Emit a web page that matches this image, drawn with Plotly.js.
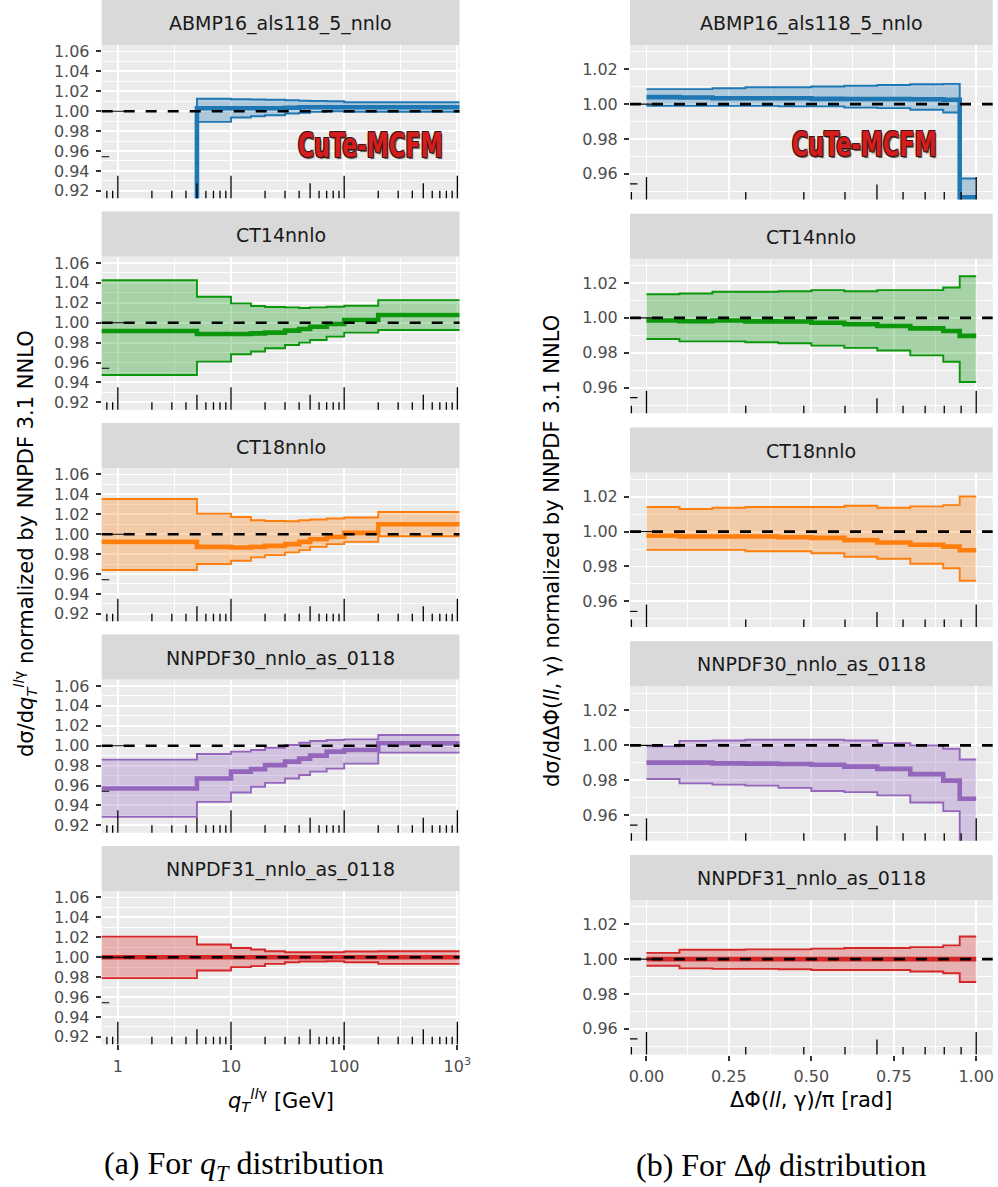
<!DOCTYPE html>
<html>
<head>
<meta charset="utf-8">
<script src="https://cdn.plot.ly/plotly-3.0.1.min.js"></script>
<style>
  html, body { margin: 0; padding: 0; background: #ffffff; }
  #chart { width: 998px; height: 1187px; }
</style>
</head>
<body>
<div id="chart"></div>
<script>
// PDF sets, one facet row each, ratio to NNPDF 3.1 NNLO
const pdfSets = ['ABMP16_als118_5_nnlo', 'CT14nnlo', 'CT18nnlo', 'NNPDF30_nnlo_as_0118', 'NNPDF31_nnlo_as_0118'];
const setColors = ['#1f77b4', '#0b960b', '#ff7f0e', '#9467bd', '#d62728'];

// q_T^{ll gamma} bin edges [GeV]
const qtEdges = [0.7, 5, 10, 15, 20, 30, 40, 50, 70, 100, 200, 1200];
// Delta Phi(ll, gamma)/pi bin edges
const dphiEdges = [0, 0.1, 0.2, 0.3, 0.4, 0.5, 0.6, 0.7, 0.8, 0.9, 0.95, 1.0];

// q_T ratios: central value and PDF uncertainty band
const abmpQtMid = [0.900, 1.003, 1.003, 1.003, 1.003, 1.0035, 1.004, 1.004, 1.004, 1.004, 1.004];
const abmpQtHi  = [0.905, 1.0125, 1.012, 1.0118, 1.0115, 1.011, 1.0105, 1.0103, 1.010, 1.009, 1.009];
const abmpQtLo  = [0.895, 0.9893, 0.9936, 0.995, 0.996, 0.9977, 0.9983, 0.9993, 1.000, 0.9995, 0.9995];

const ct14QtMid = [0.9917, 0.9886, 0.9886, 0.9893, 0.990, 0.992, 0.9937, 0.996, 0.9987, 1.0027, 1.0077];
const ct14QtHi  = [1.0427, 1.026, 1.0194, 1.0167, 1.0157, 1.0154, 1.0147, 1.0154, 1.016, 1.017, 1.0227];
const ct14QtLo  = [0.9475, 0.9609, 0.9683, 0.971, 0.9743, 0.9776, 0.980, 0.9826, 0.986, 0.990, 0.9927];

const ct18QtMid = [0.9923, 0.9873, 0.9867, 0.9873, 0.9883, 0.990, 0.9923, 0.995, 0.9973, 1.0013, 1.010];
const ct18QtHi  = [1.0353, 1.0207, 1.0173, 1.014, 1.0133, 1.013, 1.014, 1.0147, 1.0157, 1.0167, 1.0223];
const ct18QtLo  = [0.964, 0.970, 0.9733, 0.9767, 0.979, 0.9817, 0.984, 0.9873, 0.990, 0.9923, 0.998];

const nn30QtMid = [0.957, 0.967, 0.974, 0.9765, 0.9805, 0.984, 0.987, 0.990, 0.994, 0.9957, 1.0025];
const nn30QtHi  = [0.986, 0.9917, 0.994, 0.9957, 0.998, 1.0007, 1.003, 1.0047, 1.0057, 1.0064, 1.0108];
const nn30QtLo  = [0.9285, 0.9436, 0.953, 0.9587, 0.9627, 0.967, 0.9705, 0.974, 0.977, 0.982, 0.993];

const nn31QtMid = [1.0, 1.0, 1.0, 1.0, 1.0, 1.0, 1.0, 1.0, 1.0, 1.0, 1.0];
const nn31QtHi  = [1.0207, 1.0127, 1.0093, 1.0077, 1.006, 1.005, 1.005, 1.005, 1.005, 1.0057, 1.006];
const nn31QtLo  = [0.979, 0.9867, 0.990, 0.991, 0.9933, 0.995, 0.9957, 0.9957, 0.996, 0.995, 0.9933];

// Delta Phi ratios: central value and PDF uncertainty band
const abmpPhiMid = [1.004, 1.0038, 1.0034, 1.0034, 1.0034, 1.003, 1.0029, 1.0029, 1.0028, 1.0025, 0.9465];
const abmpPhiHi  = [1.0086, 1.0086, 1.0091, 1.0097, 1.0097, 1.0101, 1.0105, 1.011, 1.0114, 1.0116, 0.9573];
const abmpPhiLo  = [0.999, 0.999, 0.999, 0.999, 0.9987, 0.9987, 0.998, 0.9977, 0.9968, 0.9952, 0.935];

const ct14PhiMid = [0.9985, 0.9981, 0.9985, 0.998, 0.9979, 0.9972, 0.9963, 0.9953, 0.994, 0.9925, 0.9897];
const ct14PhiHi  = [1.0135, 1.014, 1.015, 1.015, 1.0153, 1.0159, 1.0153, 1.0159, 1.0159, 1.0174, 1.0239];
const ct14PhiLo  = [0.9879, 0.9865, 0.9865, 0.986, 0.9854, 0.9841, 0.9828, 0.9813, 0.9785, 0.9748, 0.9632];

const ct18PhiMid = [0.9976, 0.9972, 0.9972, 0.9972, 0.9968, 0.9964, 0.9951, 0.9938, 0.9925, 0.9914, 0.9893];
const ct18PhiHi  = [1.0141, 1.013, 1.0137, 1.0141, 1.0141, 1.0141, 1.0148, 1.0137, 1.0145, 1.0152, 1.0201];
const ct18PhiLo  = [0.9895, 0.9895, 0.9895, 0.9887, 0.9887, 0.9876, 0.9856, 0.9844, 0.9816, 0.979, 0.9718];

const nn30PhiMid = [0.9901, 0.9901, 0.9897, 0.9895, 0.9893, 0.9889, 0.9878, 0.9865, 0.9835, 0.9798, 0.9694];
const nn30PhiHi  = [0.9994, 1.0026, 1.0028, 1.0032, 1.0032, 1.0032, 1.0028, 1.0013, 1.000, 0.9981, 0.9919];
const nn30PhiLo  = [0.9807, 0.9782, 0.9775, 0.9769, 0.9756, 0.9738, 0.9732, 0.9713, 0.9672, 0.9623, 0.944];

const nn31PhiMid = [1.0, 1.0, 1.0, 1.0, 1.0, 1.0, 1.0, 1.0, 1.0, 1.0, 1.0];
const nn31PhiHi  = [1.0036, 1.0054, 1.0054, 1.0056, 1.0056, 1.006, 1.0064, 1.0064, 1.0069, 1.0079, 1.013];
const nn31PhiLo  = [0.9962, 0.9947, 0.9944, 0.9944, 0.9942, 0.9938, 0.9938, 0.9938, 0.9929, 0.9919, 0.9869];

// axis ticks
const qtTickVals = [1, 10, 100, 1000];
const qtTickText = ['1', '10', '100', '10<sup>3</sup>'];
const phiTickVals = [0, 0.25, 0.5, 0.75, 1.0];
const phiTickText = ['0.00', '0.25', '0.50', '0.75', '1.00'];

const qtBands = [
  [abmpQtLo, abmpQtMid, abmpQtHi], [ct14QtLo, ct14QtMid, ct14QtHi], [ct18QtLo, ct18QtMid, ct18QtHi],
  [nn30QtLo, nn30QtMid, nn30QtHi], [nn31QtLo, nn31QtMid, nn31QtHi]
];
const phiBands = [
  [abmpPhiLo, abmpPhiMid, abmpPhiHi], [ct14PhiLo, ct14PhiMid, ct14PhiHi], [ct18PhiLo, ct18PhiMid, ct18PhiHi],
  [nn30PhiLo, nn30PhiMid, nn30PhiHi], [nn31PhiLo, nn31PhiMid, nn31PhiHi]
];

// ---- page geometry (pixels) ----
const W = 998, H = 1187;
const px = x => x / W;
const py = y => 1 - y / H;
const STRIP = 45;
const colGeom = {
  L: { x0: 101.7, x1: 459.5, step: 211.5, plotH: 153.3, xr: [-0.1425, 3.019], yr: [0.9125, 1.0665], y0tick: 0.92 },
  R: { x0: 630.0, x1: 992.7, step: 213.75, plotH: 154.5, xr: [-0.05, 1.05], yr: [0.9453, 1.0339], y0tick: 0.96 }
};

const FONT = 'DejaVu Sans, Liberation Sans, sans-serif';
const panels = [];
for (let k = 0; k < 5; k++) panels.push({ side: 'L', k, edges: qtEdges, band: qtBands[k] });
for (let k = 0; k < 5; k++) panels.push({ side: 'R', k, edges: dphiEdges, band: phiBands[k] });

function stepY(v) { return v.concat([v[v.length - 1]]); }
function rgba(hex, a) {
  const n = parseInt(hex.slice(1), 16);
  return `rgba(${(n >> 16) & 255},${(n >> 8) & 255},${n & 255},${a})`;
}

// annotation_logticks-style marks: positions where 10^v is n*10^k
function logTickPositions(lo, hi, asLog) {
  const out = [];
  for (let e = -2; e <= 4; e++) {
    for (let n = 1; n <= 9; n++) {
      const v = n * Math.pow(10, e);
      const lv = Math.log10(v);
      if (lv >= lo && lv <= hi) out.push({ pos: asLog ? v : lv, kind: n === 1 ? 'long' : (n === 5 ? 'mid' : 'short') });
    }
  }
  return out;
}
const tickLen = { short: 7.5, mid: 15, long: 22.5 };

const data = [];
const layout = {
  width: W, height: H,
  margin: { l: 0, r: 0, t: 0, b: 0 },
  paper_bgcolor: '#ffffff',
  plot_bgcolor: '#EBEBEB',
  showlegend: false,
  font: { family: FONT, color: '#4D4D4D', size: 16 },
  shapes: [],
  annotations: []
};

panels.forEach((p, idx) => {
  const n = idx + 1;
  const sfx = n === 1 ? '' : String(n);
  const g = colGeom[p.side];
  const left = p.side === 'L';
  const color = setColors[p.k];
  const stripTop = g.step * p.k;
  const plotTop = stripTop + STRIP;
  const plotBot = plotTop + g.plotH;
  const bottomRow = p.k === 4;
  const [lo, mid, hi] = p.band;
  const common = { xaxis: 'x' + sfx, yaxis: 'y' + sfx, mode: 'lines', hoverinfo: 'skip', showlegend: false };

  data.push(Object.assign({}, common, { x: p.edges, y: stepY(lo), line: { shape: 'hv', color, width: 1.9 } }));
  data.push(Object.assign({}, common, { x: p.edges, y: stepY(hi), line: { shape: 'hv', color, width: 1.9 },
    fill: 'tonexty', fillcolor: rgba(color, 0.3) }));
  data.push(Object.assign({}, common, { x: p.edges, y: stepY(mid), line: { shape: 'hv', color, width: 4.6 } }));

  const xa = {
    domain: [px(g.x0), px(g.x1)], anchor: 'y' + sfx,
    type: left ? 'log' : 'linear', range: g.xr, autorange: false,
    showgrid: true, gridcolor: '#ffffff', gridwidth: 1.9, zeroline: false, showline: false,
    tickmode: 'array', tickvals: left ? qtTickVals : phiTickVals, ticktext: left ? qtTickText : phiTickText,
    showticklabels: bottomRow, ticks: bottomRow ? 'outside' : '', ticklen: 5, tickwidth: 2, tickcolor: '#333333',
    tickfont: { family: FONT, size: 16, color: '#4D4D4D' }, ticklabelstandoff: 2,
    minor: left
      ? { tickmode: 'array', tickvals: [Math.sqrt(10), Math.sqrt(1000), Math.sqrt(100000)], showgrid: true, gridcolor: '#ffffff', gridwidth: 0.9, ticks: '' }
      : { tickmode: 'linear', tick0: 0.125, dtick: 0.25, showgrid: true, gridcolor: '#ffffff', gridwidth: 0.9, ticks: '' },
    fixedrange: true
  };
  const ya = {
    domain: [py(plotBot), py(plotTop)], anchor: 'x' + sfx,
    range: g.yr, autorange: false,
    tickmode: 'linear', tick0: g.y0tick, dtick: 0.02, tickformat: '.2f',
    showgrid: true, gridcolor: '#ffffff', gridwidth: 1.9, zeroline: false, showline: false,
    ticks: 'outside', ticklen: 5, tickwidth: 2, tickcolor: '#333333',
    tickfont: { family: FONT, size: 16, color: '#4D4D4D' }, ticklabelstandoff: 3,
    minor: { tickmode: 'linear', tick0: g.y0tick - 0.01, dtick: 0.02, showgrid: true, gridcolor: '#ffffff', gridwidth: 0.9, ticks: '' },
    fixedrange: true
  };
  layout['xaxis' + sfx] = xa;
  layout['yaxis' + sfx] = ya;

  // facet strip
  layout.shapes.push({ type: 'rect', xref: 'paper', yref: 'paper', x0: px(g.x0), x1: px(g.x1),
    y0: py(plotTop), y1: py(stripTop), fillcolor: '#D9D9D9', line: { width: 0 }, layer: 'below' });
  layout.annotations.push({ xref: 'paper', yref: 'paper', x: px((g.x0 + g.x1) / 2), y: py(stripTop + STRIP / 2 + 1),
    text: pdfSets[p.k], showarrow: false, xanchor: 'center', yanchor: 'middle',
    font: { family: FONT, size: 19, color: '#1A1A1A' } });

  // reference line at ratio 1
  layout.shapes.push({ type: 'line', xref: 'x' + sfx + ' domain', yref: 'y' + sfx, x0: 0, x1: 1, y0: 1, y1: 1,
    line: { color: '#000000', width: 2.6, dash: '11px,11px' }, layer: 'above' });

  // log ticks along the bottom
  logTickPositions(g.xr[0], g.xr[1], left).forEach(t => {
    layout.shapes.push({ type: 'line', xref: 'x' + sfx, yref: 'y' + sfx + ' domain',
      x0: t.pos, x1: t.pos, y0: 0, y1: tickLen[t.kind] / g.plotH,
      line: { color: '#000000', width: 1.3 }, layer: 'above' });
  });
  // log ticks along the left side
  logTickPositions(g.yr[0], g.yr[1], false).forEach(t => {
    layout.shapes.push({ type: 'line', xref: 'x' + sfx + ' domain', yref: 'y' + sfx,
      x0: 0, x1: tickLen[t.kind] / (g.x1 - g.x0), y0: t.pos, y1: t.pos,
      line: { color: '#000000', width: 1.1 }, layer: 'above' });
  });

  // generator logo in the first row
  if (p.k === 0) {
    layout.annotations.push({ xref: 'paper', yref: 'paper',
      x: px(left ? 369.5 : 863.5), y: py(left ? 145.5 : 144.5),
      text: '<b>CuTe-MCFM</b>', showarrow: false, xanchor: 'center', yanchor: 'middle',
      font: { family: FONT, size: 33, color: '#D41E1E',
        shadow: '1px 1px 0 #3b1414, -1px -1px 0 #3b1414, 1px -1px 0 #3b1414, -1px 1px 0 #3b1414, 2px 2px 1px #555' } });
  }
});

// axis titles
layout.annotations.push({ xref: 'paper', yref: 'paper', x: px(25), y: py(544), textangle: -90,
  text: 'dσ/d<i>q</i><sub><i>T</i></sub><sup><i>ll</i>γ</sup> normalized by NNPDF 3.1 NNLO',
  showarrow: false, xanchor: 'center', yanchor: 'middle', font: { family: FONT, size: 21, color: '#000000' } });
layout.annotations.push({ xref: 'paper', yref: 'paper', x: px(552), y: py(551), textangle: -90,
  text: 'dσ/dΔΦ(<i>ll</i>, γ) normalized by NNPDF 3.1 NNLO',
  showarrow: false, xanchor: 'center', yanchor: 'middle', font: { family: FONT, size: 21, color: '#000000' } });
layout.annotations.push({ xref: 'paper', yref: 'paper', x: px(280.6), y: py(1100),
  text: '<i>q</i><sub><i>T</i></sub><sup><i>ll</i>γ</sup> [GeV]',
  showarrow: false, xanchor: 'center', yanchor: 'middle', font: { family: FONT, size: 21, color: '#000000' } });
layout.annotations.push({ xref: 'paper', yref: 'paper', x: px(811.3), y: py(1100),
  text: 'ΔΦ(<i>ll</i>, γ)/π [rad]',
  showarrow: false, xanchor: 'center', yanchor: 'middle', font: { family: FONT, size: 21, color: '#000000' } });

// sub-figure captions
const SERIF = 'Liberation Serif, DejaVu Serif, serif';
layout.annotations.push({ xref: 'paper', yref: 'paper', x: px(243.5), y: py(1165),
  text: '(a) For <i>q</i><sub><i>T</i></sub> distribution',
  showarrow: false, xanchor: 'center', yanchor: 'middle', font: { family: SERIF, size: 32, color: '#000000' } });
layout.annotations.push({ xref: 'paper', yref: 'paper', x: px(781), y: py(1165),
  text: '(b) For Δ<i>ϕ</i> distribution',
  showarrow: false, xanchor: 'center', yanchor: 'middle', font: { family: SERIF, size: 32, color: '#000000' } });

Plotly.newPlot('chart', data, layout, { displayModeBar: false, staticPlot: true }).then(gd => {
  // condense the logo lettering horizontally
  gd.querySelectorAll('text.annotation-text').forEach(t => {
    if (t.textContent !== 'CuTe-MCFM') return;
    const b = t.getBBox();
    const cx = b.x + b.width / 2;
    const s = 145 / b.width;
    t.setAttribute('transform', `translate(${cx},0) scale(${s},1) translate(${-cx},0)`);
  });
});
</script>
</body>
</html>
